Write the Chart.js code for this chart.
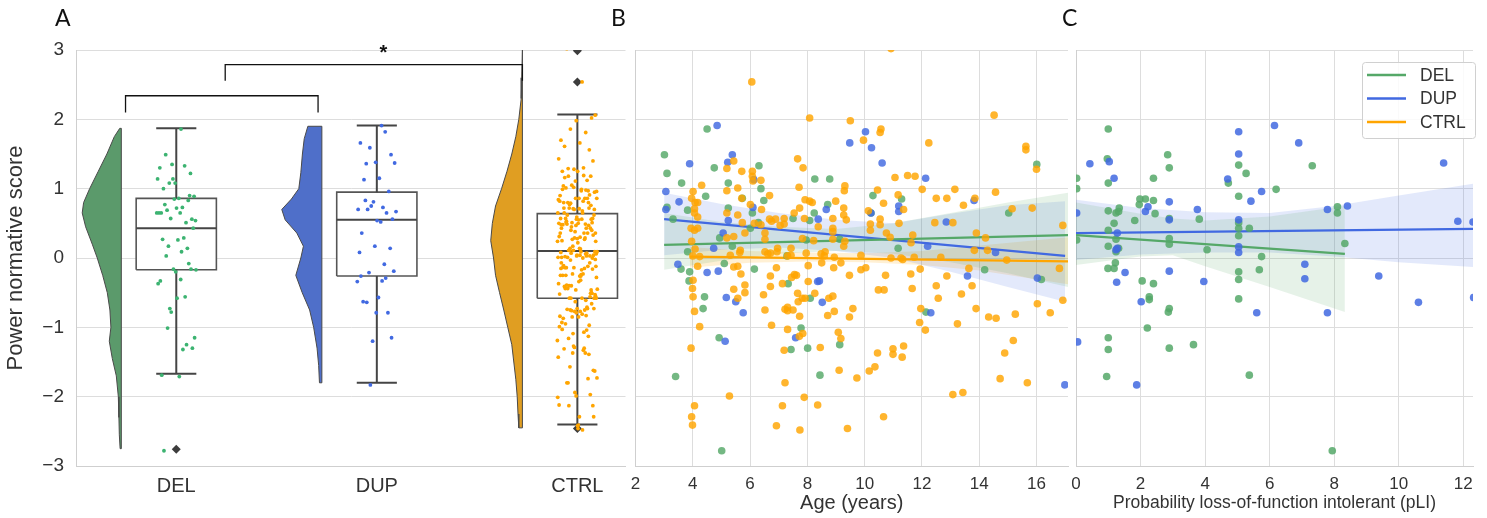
<!DOCTYPE html>
<html><head><meta charset="utf-8">
<script src="https://cdn.jsdelivr.net/npm/chart.js@4.4.1/dist/chart.umd.min.js"></script>
<style>
html,body{margin:0;padding:0;background:#fff;}
#wrap{position:relative;width:1487px;height:518px;overflow:hidden;background:#fff;}
canvas{position:absolute;top:0;}
.plab{position:absolute;font-family:Lato,"Open Sans",sans-serif;font-size:23px;line-height:23px;color:#111;}
</style></head><body>
<div id="wrap">
<canvas id="cA" width="630" height="518" style="left:0px"></canvas>
<canvas id="cB" width="450" height="518" style="left:622px"></canvas>
<canvas id="cC" width="424" height="518" style="left:1063px"></canvas>
<div class="plab" style="left:55px;top:6px">A</div>
<div class="plab" style="left:611px;top:6px">B</div>
<div class="plab" style="left:1062px;top:6px">C</div>
</div>
<script>
// ---------------- DATA ----------------
const CATEGORIES = ['DEL', 'DUP', 'CTRL'];
const Y_TICKS = [-3, -2, -1, 0, 1, 2, 3];
const AGE_TICKS = [2, 4, 6, 8, 10, 12, 14, 16];
const PLI_TICKS = [0, 2, 4, 6, 8, 10, 12];
const LEGEND_LABELS = ['DEL', 'DUP', 'CTRL'];

// boxplot statistics (A)
const BOX_Q1 = [-0.17, -0.26, -0.58];
const BOX_MED = [0.43, 0.55, 0.10];
const BOX_Q3 = [0.86, 0.95, 0.64];
const WHISK_LO = [-1.67, -1.80, -2.40];
const WHISK_HI = [1.87, 1.91, 2.07];
const OUTLIERS_DEL = [-2.76];
const OUTLIERS_DUP = [];
const OUTLIERS_CTRL = [2.54, 2.99, -2.46];

// half-violin density profiles (A): score levels and half widths
const VIOLIN_DEL_Y = [1.87, 1.75, 1.5, 1.25, 1.0, 0.8, 0.65, 0.45, 0.2, 0, -0.25, -0.5, -0.75, -1.0, -1.2, -1.45, -1.7, -2.0, -2.3, -2.55, -2.75];
const VIOLIN_DEL_W = [0.008, 0.035, 0.072, 0.115, 0.158, 0.188, 0.195, 0.178, 0.145, 0.12, 0.093, 0.07, 0.057, 0.052, 0.06, 0.045, 0.025, 0.015, 0.012, 0.01, 0.006];
const VIOLIN_DUP_Y = [1.9, 1.72, 1.5, 1.23, 1.0, 0.85, 0.7, 0.55, 0.36, 0.17, 0, -0.25, -0.5, -0.75, -1.0, -1.3, -1.55, -1.8];
const VIOLIN_DUP_W = [0.07, 0.088, 0.097, 0.105, 0.115, 0.152, 0.2, 0.183, 0.125, 0.092, 0.105, 0.13, 0.098, 0.061, 0.041, 0.024, 0.016, 0.012];
const VIOLIN_CTRL_Y = [3.0, 2.6, 2.3, 2.0, 1.75, 1.5, 1.25, 1.0, 0.75, 0.5, 0.25, 0, -0.25, -0.5, -0.75, -1.0, -1.25, -1.5, -1.75, -2.0, -2.25, -2.45];
const VIOLIN_CTRL_W = [0.0, 0.003, 0.006, 0.018, 0.033, 0.053, 0.077, 0.104, 0.134, 0.15, 0.158, 0.144, 0.134, 0.114, 0.093, 0.073, 0.053, 0.043, 0.033, 0.026, 0.022, 0.018];

// significance brackets (A): [x left, x right], [leg bottom, bar]
const BRACKET_LOW_X = [-0.253, 0.707];
const BRACKET_LOW_Y = [2.10, 2.34];
const BRACKET_HIGH_X = [0.244, 1.726];
const BRACKET_HIGH_Y = [2.556, 2.79];
const STAR_LABEL = '*';
const STAR_AT = [1.033, 2.95];

// (B) age vs score, [age, score]
const DEL_AGE = [[4.50,1.86],[3.01,1.49],[3.10,1.22],[3.61,1.08],[4.75,1.30],[6.31,1.33],[5.24,1.08],[4.45,0.89],[5.73,0.86],[6.38,1.00],[6.48,0.83],[8.26,1.14],[8.78,1.14],[3.10,0.73],[3.82,0.69],[3.31,0.56],[5.24,0.72],[6.08,0.65],[6.29,0.51],[7.50,0.57],[8.08,0.54],[8.24,0.65],[8.71,0.77],[10.29,0.90],[11.29,0.85],[10.22,0.65],[4.94,0.29],[5.38,0.17],[6.01,0.43],[7.96,0.26],[9.13,0.27],[11.17,0.14],[16.01,1.35],[15.03,0.65],[3.82,0.09],[7.29,0.03],[3.59,-0.16],[3.89,-0.20],[3.87,-0.33],[4.41,-0.56],[4.36,-0.73],[4.92,-1.15],[3.40,-1.71],[5.01,-2.78],[5.10,-0.08],[6.15,-0.16],[7.33,-0.37],[7.43,-1.32],[7.78,-1.01],[8.01,-1.30],[8.10,-0.58],[8.44,-1.69],[9.13,-1.25],[12.14,-0.78],[14.19,-0.17],[16.17,-0.31]];
const DUP_AGE = [[4.85,1.91],[3.89,1.36],[5.38,1.49],[5.22,1.38],[9.48,1.66],[10.03,1.82],[10.24,1.59],[10.61,1.37],[12.13,1.15],[6.13,1.13],[3.06,0.96],[3.52,0.81],[3.06,0.70],[6.10,0.73],[8.66,0.70],[8.38,0.56],[5.24,0.54],[5.06,0.36],[10.22,0.65],[11.19,0.75],[11.19,0.67],[12.85,0.52],[13.82,0.83],[4.73,0.14],[12.20,0.17],[14.57,0.08],[3.48,-0.09],[4.50,-0.21],[4.89,-0.19],[5.17,-0.57],[5.50,-0.63],[5.76,-0.79],[5.13,-1.20],[8.36,-0.34],[8.42,-0.33],[8.52,-0.64],[7.59,-1.15],[12.31,-0.79],[13.59,-0.26],[16.03,-0.29],[16.99,-1.83]];
const CTRL_AGE = [[6.06,2.54],[10.92,3.02],[8.08,2.02],[9.50,1.98],[9.96,1.70],[10.54,1.81],[10.57,1.86],[14.52,2.06],[12.24,1.66],[15.63,1.61],[15.63,1.56],[16.00,1.28],[7.66,1.43],[7.85,1.30],[5.19,1.29],[5.43,1.40],[5.71,1.25],[6.08,1.25],[6.38,1.12],[4.31,1.05],[4.01,0.96],[5.19,0.97],[5.57,1.01],[6.08,1.18],[6.10,1.11],[6.68,0.90],[5.71,0.86],[6.01,0.77],[6.40,0.70],[3.96,0.86],[4.08,0.80],[4.17,0.80],[4.06,0.71],[4.06,0.65],[5.19,0.65],[5.57,0.62],[5.73,0.51],[4.17,0.59],[3.94,0.43],[4.17,0.43],[4.06,0.40],[3.96,0.24],[4.08,0.13],[4.24,0.02],[4.00,0.03],[5.19,0.29],[5.43,0.31],[5.82,0.36],[5.66,0.11],[5.31,0.04],[6.15,0.50],[6.38,0.48],[6.52,0.36],[6.52,0.27],[6.52,0.09],[6.68,0.56],[6.75,0.53],[6.89,0.56],[7.05,0.47],[7.19,0.57],[7.19,0.49],[6.96,0.14],[6.94,0.09],[7.43,0.14],[7.54,0.65],[7.73,0.72],[7.71,1.02],[7.92,0.84],[8.08,0.82],[8.17,0.80],[7.90,0.57],[7.83,0.28],[8.22,0.25],[7.96,0.07],[8.38,0.45],[8.48,0.06],[8.62,0.09],[8.89,0.57],[8.89,0.43],[8.89,0.38],[8.99,0.82],[8.89,0.27],[9.27,0.72],[9.27,0.62],[9.36,0.55],[9.31,1.04],[9.29,0.97],[9.27,0.17],[9.31,0.24],[10.13,0.68],[10.20,0.49],[10.20,0.40],[10.54,0.56],[10.54,0.48],[10.45,0.98],[10.66,0.79],[10.76,0.36],[10.89,0.30],[11.06,1.16],[11.17,0.91],[11.36,0.70],[11.20,0.50],[11.50,1.19],[11.76,1.18],[11.68,0.33],[11.62,0.22],[12.01,0.99],[12.50,0.86],[12.45,0.51],[12.87,0.86],[13.15,0.99],[13.08,0.51],[13.45,0.76],[13.85,0.86],[13.90,0.36],[14.22,0.29],[13.83,0.11],[14.57,0.95],[15.15,0.71],[15.85,0.72],[16.92,0.47],[14.29,0.11],[12.66,0.01],[11.27,0.00],[11.73,0.01],[10.92,0.00],[9.87,0.04],[8.94,0.01],[7.31,0.03],[6.71,0.07],[4.17,-0.12],[4.01,-0.32],[3.99,-0.44],[4.01,-0.56],[4.06,-0.77],[4.24,-0.99],[3.94,-1.30],[4.06,-2.13],[3.96,-2.29],[3.99,-2.41],[5.43,-0.13],[5.57,-0.12],[5.68,-0.23],[5.43,-0.45],[5.57,-0.58],[5.82,-0.39],[5.82,-0.50],[5.28,-1.99],[5.64,0.08],[6.62,0.06],[6.52,-0.75],[6.47,-0.53],[6.71,-0.26],[6.71,-0.41],[6.75,-0.97],[6.92,-0.14],[7.13,-0.37],[7.19,-1.33],[7.22,-1.80],[7.13,-2.13],[6.92,-2.42],[7.31,-1.03],[7.31,-0.71],[7.31,-0.76],[7.45,-0.28],[7.55,-0.24],[7.62,-0.25],[7.66,-0.51],[7.68,-0.63],[7.73,-0.84],[7.50,-0.75],[7.82,-0.58],[7.92,-0.58],[8.03,-0.34],[8.03,-0.11],[7.72,-1.13],[7.84,-1.09],[7.89,-2.01],[7.74,-2.48],[7.22,-0.74],[8.26,-0.51],[8.59,0.03],[8.50,-0.07],[8.71,-0.83],[8.75,-0.58],[8.89,-0.55],[8.94,-0.77],[8.92,-0.14],[9.17,-0.07],[8.45,-1.29],[8.36,-2.12],[9.08,-1.07],[9.17,-1.16],[9.11,-1.62],[9.40,-2.46],[9.47,-0.25],[9.59,-0.73],[9.47,-0.85],[9.73,-1.73],[9.87,-0.17],[10.04,-0.14],[10.48,-0.46],[10.68,-0.46],[10.73,-0.25],[10.45,-1.37],[10.36,-1.57],[10.16,-1.63],[10.66,-2.29],[10.99,-1.31],[10.99,-1.39],[11.36,-1.27],[11.31,-1.43],[11.61,-0.23],[11.66,-0.44],[11.94,-0.16],[11.96,-0.73],[11.92,-0.93],[12.12,-1.04],[12.50,-0.40],[12.57,-0.58],[12.87,-0.26],[13.24,-0.95],[13.08,-1.97],[13.43,-1.94],[13.38,-0.52],[13.64,-0.15],[13.75,-0.40],[13.89,-0.73],[14.33,-0.85],[14.59,-0.87],[14.73,-1.74],[14.89,-1.37],[15.19,-1.19],[15.26,-0.81],[15.68,-1.80],[16.03,-0.66],[16.48,-0.79],[16.80,-0.15],[16.92,-0.61],[14.96,-0.03],[11.33,-0.02],[7.43,0.04]];

// (B) regression lines and confidence bands: [x, y] / [x, lower, upper]
const REG_AGE_DEL = [[3.0,0.19],[17.1,0.33]];
const REG_AGE_DUP = [[3.0,0.56],[17.0,0.03]];
const REG_AGE_CTRL = [[3.9,0.02],[17.1,-0.05]];
const CI_AGE_DEL = [[3.0,-0.17,0.65],[5,-0.04,0.52],[7,0.06,0.45],[9,0.10,0.42],[11,0.06,0.50],[13,-0.06,0.65],[15,-0.22,0.80],[17.1,-0.42,0.94]];
const CI_AGE_DUP = [[3.0,0.04,0.94],[5,0.12,0.78],[7,0.15,0.65],[9,0.10,0.55],[11,0.0,0.50],[13,-0.20,0.64],[15,-0.42,0.76],[17.0,-0.63,0.82]];
const CI_AGE_CTRL = [[3.9,-0.14,0.16],[6,-0.07,0.10],[8,-0.05,0.08],[10,-0.06,0.07],[12,-0.10,0.10],[14,-0.18,0.18],[17.1,-0.38,0.30]];

// (C) pLI vs score, [pLI, score]
const DEL_PLI = [[1.00,1.86],[0.97,1.43],[1.00,1.08],[2.84,1.49],[2.89,1.30],[2.40,1.15],[5.04,1.34],[5.27,1.22],[7.32,1.33],[0.02,1.15],[0.02,1.00],[5.04,0.89],[6.20,0.99],[1.98,0.85],[2.15,0.85],[2.40,0.83],[1.96,0.77],[1.00,0.68],[1.34,0.72],[1.32,0.67],[1.24,0.65],[1.18,0.50],[1.82,0.54],[2.45,0.64],[2.89,0.57],[3.82,0.56],[1.00,0.40],[1.24,0.27],[1.00,0.17],[1.32,0.14],[1.24,0.09],[2.89,0.28],[2.89,0.20],[4.06,0.12],[5.04,0.51],[5.04,0.43],[5.37,0.43],[5.04,0.32],[5.75,0.02],[8.10,0.74],[8.10,0.65],[8.33,0.21],[0.02,0.26],[4.72,1.08],[1.22,-0.07],[0.99,-0.15],[1.18,-0.15],[2.05,-0.33],[2.40,-0.37],[2.27,-0.56],[2.27,-0.60],[2.89,-0.73],[2.86,-0.78],[2.21,-1.01],[1.00,-1.15],[1.00,-1.32],[2.89,-1.30],[3.64,-1.25],[0.95,-1.71],[5.37,-1.69],[7.94,-2.78],[5.04,-0.20],[5.04,-0.31],[5.68,-0.17],[5.04,-0.59]];
const DUP_PLI = [[0.43,1.36],[1.03,1.39],[1.18,1.15],[5.04,1.82],[6.15,1.91],[6.90,1.66],[5.04,1.50],[4.70,1.14],[11.39,1.37],[5.75,0.96],[5.42,0.82],[2.89,0.81],[2.23,0.74],[2.15,0.67],[3.76,0.70],[2.89,0.55],[5.04,0.55],[7.79,0.70],[8.41,0.75],[1.28,0.36],[1.28,0.14],[1.24,0.12],[5.04,0.16],[5.04,0.08],[11.83,0.53],[12.30,0.52],[0.02,0.65],[1.52,-0.21],[1.26,-0.35],[2.89,-0.19],[3.96,-0.34],[2.02,-0.63],[5.60,-0.79],[7.09,-0.09],[7.09,-0.30],[7.79,-0.79],[9.38,-0.26],[10.61,-0.64],[12.32,-0.57],[0.05,-1.21],[1.88,-1.83]];
const REG_PLI_DEL = [[0,0.33],[8.33,0.06]];
const REG_PLI_DUP = [[0,0.36],[12.3,0.42]];
const CI_PLI_DEL = [[0,-0.10,0.80],[2,0.02,0.64],[3,0.04,0.57],[4,-0.12,0.54],[6,-0.42,0.60],[8.33,-0.78,0.75]];
const CI_PLI_DUP = [[0,-0.03,0.84],[2,0.05,0.72],[4,0.08,0.66],[6,0.08,0.65],[8,0.02,0.75],[10,-0.06,0.90],[12.3,-0.13,1.07]];

// ---------------- STYLE ----------------
const FONT = '"Liberation Sans", Arial, sans-serif';
const TXT = '#333333';
const GRID = '#dddddd';
const SPINE = '#cfcfcf';
const C_GREEN = '#55a868', C_BLUE = '#4169e1', C_ORANGE = '#ffa500';
const VIOLIN_COL = ['#5b9a6b', '#4f6fc9', '#e09e22'];
const STRIP_COL = ['#3cb371', '#4169e1', '#ffa500'];
const VIOLIN_OFFSET = 0.274, BOX_HALF = 0.2, CAP_HALF = 0.1, JITTER = 0.1;

const fmtTick = v => (v < 0 ? '\u2212' + Math.abs(v) : String(v));
const xy = arr => arr.map(p => ({x: p[0], y: p[1]}));
const jitter = i => ((i * 0.6180339887) % 1 - 0.5) * 2 * JITTER;

// fill the polygon formed by a dataset's own points (computed by the scales)
const shapeFill = {
  id: 'shapeFill',
  beforeDatasetDraw(chart, args) {
    const ds = chart.data.datasets[args.index];
    if (!ds.shapeFill) return;
    const pts = args.meta.data.filter(p => !p.skip);
    if (!pts.length) return;
    const ctx = chart.ctx;
    ctx.save();
    ctx.beginPath();
    pts.forEach((p, i) => i ? ctx.lineTo(p.x, p.y) : ctx.moveTo(p.x, p.y));
    ctx.closePath();
    ctx.fillStyle = ds.shapeFill;
    ctx.fill();
    ctx.restore();
  }
};

const baseOpts = {
  responsive: false, animation: false, events: [],
  plugins: {legend: {display: false}, tooltip: {enabled: false}},
};

function yAxis(showLabels) {
  const o = {
    type: 'linear', min: -3, max: 3,
    afterBuildTicks: s => { s.ticks = Y_TICKS.map(v => ({value: v})); },
    grid: {color: GRID, drawTicks: false, lineWidth: 1},
    border: {display: true, color: SPINE, width: 1},
  };
  if (showLabels) {
    o.ticks = {callback: fmtTick, font: {size: 19, family: FONT}, color: TXT, padding: 12};
    o.title = {display: true, text: 'Power normative score', font: {size: 22, family: FONT}, color: TXT, padding: {top: 3, bottom: 0}};
    o.afterFit = s => { s.width = 76; };
  } else {
    o.ticks = {display: false};
    o.afterFit = s => { s.width = 0; };
  }
  return o;
}

// ---------------- PANEL A ----------------
const groupScores = [DEL_AGE, DUP_AGE, CTRL_AGE].map(g => g.map(p => p[1]));
const violinY = [VIOLIN_DEL_Y, VIOLIN_DUP_Y, VIOLIN_CTRL_Y];
const violinW = [VIOLIN_DEL_W, VIOLIN_DUP_W, VIOLIN_CTRL_W];
const outliers = [OUTLIERS_DEL, OUTLIERS_DUP, OUTLIERS_CTRL];

const dsA = [];
CATEGORIES.forEach((c, i) => {
  dsA.push({type: 'scatter', data: groupScores[i].map((v, k) => ({x: i + jitter(k + 1), y: v})),
    pointRadius: 1.9, pointBackgroundColor: STRIP_COL[i], pointBorderWidth: 0, order: 0});
});
CATEGORIES.forEach((c, i) => {
  dsA.push({type: 'scatter', data: outliers[i].map(v => ({x: i, y: v})), pointStyle: 'rectRot',
    pointRadius: 4.5, pointBackgroundColor: '#3d3d3d', pointBorderWidth: 0, order: 1});
  const l = i - BOX_HALF, r = i + BOX_HALF;
  dsA.push({type: 'line', data: [
      {x: i, y: BOX_Q3[i]}, {x: i, y: WHISK_HI[i]}, {x: i, y: null},
      {x: i - CAP_HALF, y: WHISK_HI[i]}, {x: i + CAP_HALF, y: WHISK_HI[i]}, {x: i, y: null},
      {x: i, y: BOX_Q1[i]}, {x: i, y: WHISK_LO[i]}, {x: i, y: null},
      {x: i - CAP_HALF, y: WHISK_LO[i]}, {x: i + CAP_HALF, y: WHISK_LO[i]}, {x: i, y: null},
      {x: l, y: BOX_MED[i]}, {x: r, y: BOX_MED[i]}],
    borderColor: '#454545', borderWidth: 2, pointRadius: 0, spanGaps: false, fill: false, order: 2});
  dsA.push({type: 'line', data: [{x: l, y: BOX_Q1[i]}, {x: r, y: BOX_Q1[i]}, {x: r, y: BOX_Q3[i]}, {x: l, y: BOX_Q3[i]}, {x: l, y: BOX_Q1[i]}],
    borderColor: '#555555', borderWidth: 1.6, pointRadius: 0, fill: false, shapeFill: '#ffffff', order: 3});
  const edge = i - VIOLIN_OFFSET;
  const vy = violinY[i], vw = violinW[i];
  const vd = [{x: edge, y: vy[0]}];
  vy.forEach((y, k) => vd.push({x: edge - vw[k], y}));
  vd.push({x: edge, y: vy[vy.length - 1]});
  vd.push({x: edge, y: vy[0]});
  dsA.push({type: 'line', data: vd, borderColor: '#4a4a4a', borderWidth: 1, pointRadius: 0, fill: false,
    shapeFill: VIOLIN_COL[i], order: 4, tension: 0});
});
[[BRACKET_LOW_X, BRACKET_LOW_Y], [BRACKET_HIGH_X, BRACKET_HIGH_Y]].forEach(([bx, by]) => {
  dsA.push({type: 'line', data: [{x: bx[0], y: by[0]}, {x: bx[0], y: by[1]}, {x: bx[1], y: by[1]}, {x: bx[1], y: by[0]}],
    borderColor: '#111111', borderWidth: 1.3, pointRadius: 0, fill: false, order: 2});
});

const starPlugin = {
  id: 'star',
  afterDatasetsDraw(chart) {
    const {ctx, scales} = chart;
    ctx.save();
    ctx.font = 'bold 20px ' + FONT;
    ctx.fillStyle = '#111';
    ctx.textAlign = 'center';
    ctx.textBaseline = 'middle';
    ctx.fillText(STAR_LABEL, scales.x.getPixelForValue(STAR_AT[0]), scales.y.getPixelForValue(STAR_AT[1]));
    ctx.restore();
  }
};

new Chart(document.getElementById('cA'), {
  type: 'scatter',
  data: {datasets: dsA},
  options: Object.assign({}, baseOpts, {
    layout: {padding: {left: 0, right: 4, top: 50, bottom: 0}},
    scales: {
      x: {type: 'linear', min: -0.5, max: 2.24,
        afterBuildTicks: s => { s.ticks = CATEGORIES.map((c, i) => ({value: i})); },
        ticks: {callback: v => CATEGORIES[v], font: {size: 20, family: FONT}, color: TXT, padding: 8, maxRotation: 0, autoSkip: false},
        grid: {display: false, drawTicks: false},
        border: {display: true, color: SPINE, width: 1},
        afterFit: s => { s.height = 52; }},
      y: yAxis(true)
    }
  }),
  plugins: [shapeFill, starPlugin]
});

// ---------------- PANELS B & C ----------------
function bandDatasets(ci, color) {
  return [
    {type: 'line', data: ci.map(r => ({x: r[0], y: r[1]})), borderWidth: 0, borderColor: 'transparent', pointRadius: 0, fill: false, order: 6},
    {type: 'line', data: ci.map(r => ({x: r[0], y: r[2]})), borderWidth: 0, borderColor: 'transparent', pointRadius: 0, fill: '-1', backgroundColor: color, order: 6}
  ];
}
function regDataset(reg, color) {
  return {type: 'line', data: xy(reg), borderColor: color, borderWidth: 2.2, pointRadius: 0, fill: false, order: 3};
}
function pointsDataset(pts, color, order) {
  return {type: 'scatter', data: xy(pts), pointRadius: 3.8, pointBorderWidth: 0, pointBackgroundColor: color, order};
}

const dsB = [
  ...bandDatasets(CI_AGE_DEL, 'rgba(85,168,104,0.15)'),
  ...bandDatasets(CI_AGE_DUP, 'rgba(65,105,225,0.15)'),
  ...bandDatasets(CI_AGE_CTRL, 'rgba(255,165,0,0.17)'),
  regDataset(REG_AGE_DEL, C_GREEN),
  regDataset(REG_AGE_DUP, C_BLUE),
  regDataset(REG_AGE_CTRL, C_ORANGE),
  pointsDataset(CTRL_AGE, 'rgba(255,165,0,0.82)', 0),
  pointsDataset(DUP_AGE, 'rgba(65,105,225,0.82)', 1),
  pointsDataset(DEL_AGE, 'rgba(85,168,104,0.82)', 2),
];

new Chart(document.getElementById('cB'), {
  type: 'scatter',
  data: {datasets: dsB},
  options: Object.assign({}, baseOpts, {
    layout: {padding: {left: 13.5, right: 4, top: 50, bottom: 0}},
    scales: {
      x: {type: 'linear', min: 2, max: 17.1,
        afterBuildTicks: s => { s.ticks = AGE_TICKS.map(v => ({value: v})); },
        ticks: {font: {size: 17, family: FONT}, color: TXT, padding: 8, maxRotation: 0},
        grid: {color: GRID, drawTicks: false},
        border: {display: true, color: SPINE, width: 1},
        title: {display: true, text: 'Age (years)', font: {size: 20, family: FONT}, color: TXT, padding: {top: 0, bottom: 3}},
        afterFit: s => { s.height = 52; }},
      y: yAxis(false)
    }
  })
});

const legendPlugin = {
  id: 'boxLegend',
  afterDatasetsDraw(chart) {
    const {ctx, chartArea} = chart;
    const w = 113, h = 76;
    const x0 = chartArea.right - w + 2, y0 = chartArea.top + 12;
    const cols = [C_GREEN, C_BLUE, C_ORANGE];
    ctx.save();
    ctx.beginPath();
    ctx.roundRect(x0 + 0.5, y0 + 0.5, w, h, 3);
    ctx.fillStyle = 'rgba(255,255,255,0.85)';
    ctx.fill();
    ctx.strokeStyle = '#d0d0d0';
    ctx.lineWidth = 1;
    ctx.stroke();
    ctx.font = '17.5px ' + FONT;
    ctx.textBaseline = 'middle';
    ctx.textAlign = 'left';
    LEGEND_LABELS.forEach((lab, i) => {
      const y = y0 + 13 + i * 23.5;
      ctx.beginPath();
      ctx.moveTo(x0 + 5, y);
      ctx.lineTo(x0 + 44, y);
      ctx.strokeStyle = cols[i];
      ctx.lineWidth = 2.5;
      ctx.stroke();
      ctx.fillStyle = TXT;
      ctx.fillText(lab, x0 + 58, y + 1);
    });
    ctx.restore();
  }
};

const dsC = [
  ...bandDatasets(CI_PLI_DEL, 'rgba(85,168,104,0.15)'),
  ...bandDatasets(CI_PLI_DUP, 'rgba(65,105,225,0.15)'),
  regDataset(REG_PLI_DEL, C_GREEN),
  regDataset(REG_PLI_DUP, C_BLUE),
  pointsDataset(DUP_PLI, 'rgba(65,105,225,0.85)', 1),
  pointsDataset(DEL_PLI, 'rgba(85,168,104,0.85)', 2),
];

new Chart(document.getElementById('cC'), {
  type: 'scatter',
  data: {datasets: dsC},
  options: Object.assign({}, baseOpts, {
    layout: {padding: {left: 13, right: 14, top: 50, bottom: 0}},
    scales: {
      x: {type: 'linear', min: 0, max: 12.3,
        afterBuildTicks: s => { s.ticks = PLI_TICKS.map(v => ({value: v})); },
        ticks: {font: {size: 17, family: FONT}, color: TXT, padding: 8, maxRotation: 0},
        grid: {color: GRID, drawTicks: false},
        border: {display: true, color: SPINE, width: 1},
        title: {display: true, text: 'Probability loss-of-function intolerant (pLI)', font: {size: 17.5, family: FONT}, color: TXT, padding: {top: 0, bottom: 4}},
        afterFit: s => { s.height = 52; }},
      y: yAxis(false)
    }
  }),
  plugins: [legendPlugin]
});
</script>
</body></html>
